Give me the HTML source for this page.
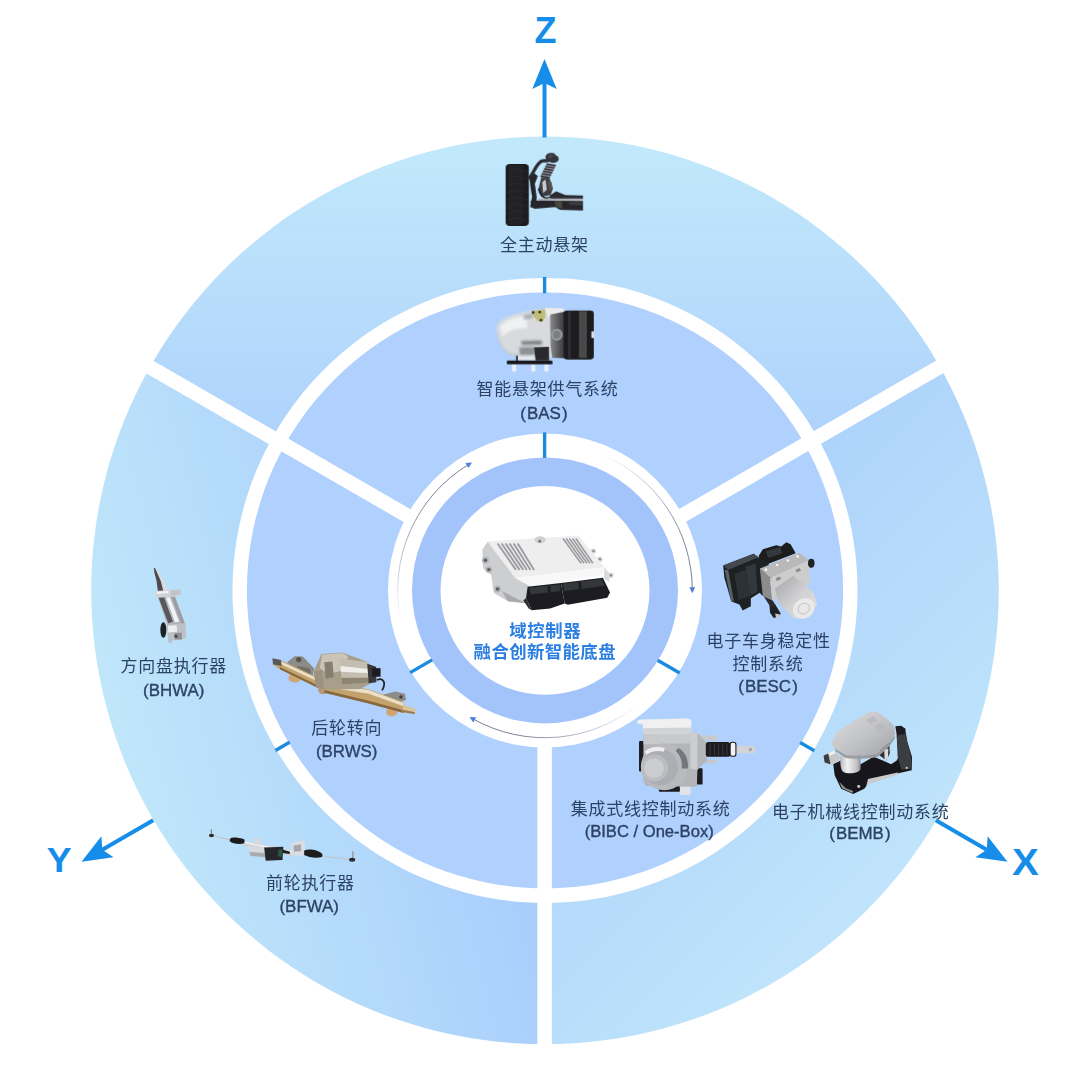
<!DOCTYPE html>
<html lang="zh"><head><meta charset="utf-8"><title>融合创新智能底盘 域控制器</title>
<style>html,body{margin:0;padding:0;background:#fff}body{width:1080px;height:1080px;overflow:hidden;font-family:"Liberation Sans",sans-serif}svg{display:block}</style></head>
<body>
<svg width="1080" height="1080" viewBox="0 0 1080 1080" font-family="'Liberation Sans', 'Noto Sans CJK SC', sans-serif">
<defs>
<linearGradient id="gTop" gradientUnits="userSpaceOnUse" x1="545" y1="440.4" x2="545" y2="136.4"><stop offset="0" stop-color="#aed2fc"/><stop offset="1" stop-color="#c2e9fb"/></linearGradient>
<linearGradient id="gLeft" gradientUnits="userSpaceOnUse" x1="448.41" y1="616.28" x2="110.33" y2="706.87"><stop offset="0" stop-color="#a9cefc"/><stop offset="1" stop-color="#bfe6fa"/></linearGradient>
<linearGradient id="gRight" gradientUnits="userSpaceOnUse" x1="615.71" y1="661.11" x2="863.2" y2="908.6"><stop offset="0" stop-color="#afd4fb"/><stop offset="1" stop-color="#bfe4fb"/></linearGradient>
</defs>
<path d="M152 363.5A453.8 453.8 0 0 1 938 363.5L815.63 434.15A312.5 312.5 0 0 0 274.37 434.15Z" fill="url(#gTop)"/>
<path d="M545 1044.2A453.8 453.8 0 0 1 152 363.5L274.37 434.15A312.5 312.5 0 0 0 545 902.9Z" fill="url(#gLeft)"/>
<path d="M938 363.5A453.8 453.8 0 0 1 545 1044.2L545 902.9A312.5 312.5 0 0 0 815.63 434.15Z" fill="url(#gRight)"/>
<path d="M843.1 590.4A298.1 298.1 0 0 1 246.9 590.4L388 590.4A157 157 0 0 0 702 590.4ZM246.9 590.4A298.1 298.1 0 0 1 843.1 590.4L702 590.4A157 157 0 0 0 388 590.4Z" fill="#b0d0fd"/>
<path d="M678 590.4A133 133 0 0 1 412 590.4L440.5 590.4A104.5 104.5 0 0 0 649.5 590.4ZM412 590.4A133 133 0 0 1 678 590.4L649.5 590.4A104.5 104.5 0 0 0 440.5 590.4Z" fill="#a3c4fb"/>
<line x1="544.6" y1="735" x2="544.6" y2="1065" stroke="#fff" stroke-width="14.5"/>
<line x1="423.36" y1="525" x2="137.57" y2="360" stroke="#fff" stroke-width="14.5"/>
<line x1="665.84" y1="525" x2="951.63" y2="360" stroke="#fff" stroke-width="14.5"/>
<line x1="544.6" y1="293.3" x2="544.6" y2="276.9" stroke="#1b8bde" stroke-width="3.4"/>
<line x1="544.6" y1="457.9" x2="544.6" y2="432.4" stroke="#1b8bde" stroke-width="3.4"/>
<line x1="289.62" y1="742.21" x2="275.41" y2="750.42" stroke="#1b8bde" stroke-width="3.4"/>
<line x1="432.19" y1="659.9" x2="410.1" y2="672.65" stroke="#1b8bde" stroke-width="3.4"/>
<line x1="800.18" y1="742.56" x2="814.38" y2="750.76" stroke="#1b8bde" stroke-width="3.4"/>
<line x1="657.6" y1="660.24" x2="679.69" y2="673" stroke="#1b8bde" stroke-width="3.4"/>
<line x1="544.5" y1="137.5" x2="544.5" y2="83" stroke="#168ee9" stroke-width="4"/><path d="M544.5 59L556.7 89L544.5 83L532.3 89Z" fill="#168ee9"/>
<line x1="935.8" y1="820.3" x2="986.72" y2="849.7" stroke="#168ee9" stroke-width="4"/><path d="M1007.5 861.7L975.42 857.26L986.72 849.7L987.62 836.13Z" fill="#168ee9"/>
<line x1="153.2" y1="820.3" x2="102.28" y2="849.7" stroke="#168ee9" stroke-width="4"/><path d="M81.5 861.7L101.38 836.13L102.28 849.7L113.58 857.26Z" fill="#168ee9"/>
<linearGradient id="ga1" gradientUnits="userSpaceOnUse" x1="400.92" y1="621.03" x2="469.13" y2="464.14"><stop offset="0" stop-color="#5a6690" stop-opacity="0"/><stop offset="0.3" stop-color="#56608a" stop-opacity="0.45"/><stop offset="0.7" stop-color="#4c5474" stop-opacity="0.9"/><stop offset="1" stop-color="#4a5678" stop-opacity="0.95"/></linearGradient><path d="M400.92 621.03A147.3 147.3 0 0 1 469.13 464.14" fill="none" stroke="url(#ga1)" stroke-width="0.8"/><path d="M472.05 462.39L468.4 467.96L465.41 462.99Z" fill="#4c80dc"/>
<linearGradient id="ga2" gradientUnits="userSpaceOnUse" x1="600.18" y1="453.83" x2="692.3" y2="589.89"><stop offset="0" stop-color="#5a6690" stop-opacity="0"/><stop offset="0.3" stop-color="#56608a" stop-opacity="0.45"/><stop offset="0.7" stop-color="#4c5474" stop-opacity="0.9"/><stop offset="1" stop-color="#4a5678" stop-opacity="0.95"/></linearGradient><path d="M600.18 453.83A147.3 147.3 0 0 1 692.3 589.89" fill="none" stroke="url(#ga2)" stroke-width="0.8"/><path d="M692.31 593.29L689.39 587.3L695.19 587.28Z" fill="#4c80dc"/>
<linearGradient id="ga3" gradientUnits="userSpaceOnUse" x1="639.68" y1="703.24" x2="472.47" y2="718.6"><stop offset="0" stop-color="#5a6690" stop-opacity="0"/><stop offset="0.3" stop-color="#56608a" stop-opacity="0.45"/><stop offset="0.7" stop-color="#4c5474" stop-opacity="0.9"/><stop offset="1" stop-color="#4a5678" stop-opacity="0.95"/></linearGradient><path d="M639.68 703.24A147.3 147.3 0 0 1 472.47 718.6" fill="none" stroke="url(#ga3)" stroke-width="0.8"/><path d="M469.51 716.93L476.16 717.36L473.3 722.41Z" fill="#4c80dc"/>
<defs>
<filter id="blur3" x="-10%" y="-10%" width="120%" height="120%"><feGaussianBlur stdDeviation="3"/></filter>
<filter id="blur4" x="-10%" y="-10%" width="120%" height="120%"><feGaussianBlur stdDeviation="4"/></filter>
<filter id="blur8" x="-10%" y="-10%" width="120%" height="120%"><feGaussianBlur stdDeviation="8"/></filter>
<filter id="blur2" x="-10%" y="-10%" width="120%" height="120%"><feGaussianBlur stdDeviation="2"/></filter>
<linearGradient id="silverV" x1="0" y1="0" x2="0" y2="1"><stop offset="0" stop-color="#f4f5f7"/><stop offset="0.5" stop-color="#c9ccd2"/><stop offset="1" stop-color="#8e9299"/></linearGradient>
<linearGradient id="silverH" x1="0" y1="0" x2="1" y2="0"><stop offset="0" stop-color="#9a9ea6"/><stop offset="0.35" stop-color="#eceef1"/><stop offset="0.7" stop-color="#c2c5cb"/><stop offset="1" stop-color="#8a8e96"/></linearGradient>
<linearGradient id="basBody" x1="0" y1="0" x2="0" y2="1"><stop offset="0" stop-color="#f1f1f1"/><stop offset="0.45" stop-color="#dcdcdd"/><stop offset="1" stop-color="#b9babd"/></linearGradient>
<linearGradient id="basMid" x1="0" y1="0" x2="1" y2="0"><stop offset="0" stop-color="#8a8c90"/><stop offset="0.5" stop-color="#55565a"/><stop offset="1" stop-color="#2a2a2c"/></linearGradient>
<linearGradient id="motorG" x1="0" y1="0" x2="1" y2="1"><stop offset="0" stop-color="#a4a5a8"/><stop offset="0.5" stop-color="#cfcfd1"/><stop offset="1" stop-color="#e6e6e7"/></linearGradient>
<linearGradient id="bembTop" x1="0" y1="0" x2="1" y2="1"><stop offset="0" stop-color="#dedee0"/><stop offset="0.5" stop-color="#c4c5c8"/><stop offset="1" stop-color="#a3a4a8"/></linearGradient>
<linearGradient id="bembCyl" x1="0" y1="0" x2="1" y2="0"><stop offset="0" stop-color="#b9babd"/><stop offset="0.35" stop-color="#f1f1f2"/><stop offset="0.8" stop-color="#c2c3c6"/><stop offset="1" stop-color="#8f9094"/></linearGradient>
<linearGradient id="darkV" x1="0" y1="0" x2="0" y2="1"><stop offset="0" stop-color="#3a3b3f"/><stop offset="1" stop-color="#141416"/></linearGradient>
</defs><g transform="translate(495 145) scale(0.09259)" filter="url(#blur4)"><rect x="115" y="205" width="250" height="670" rx="45" ry="40" fill="#1d1d1f"/><rect x="150" y="215" width="150" height="650" rx="30" fill="#262628" opacity="0.8"/><path d="M135 290L235 260L345 290" stroke="#323235" stroke-width="9" fill="none" opacity="0.7"/><path d="M135 365L235 335L345 365" stroke="#323235" stroke-width="9" fill="none" opacity="0.7"/><path d="M135 440L235 410L345 440" stroke="#323235" stroke-width="9" fill="none" opacity="0.7"/><path d="M135 515L235 485L345 515" stroke="#323235" stroke-width="9" fill="none" opacity="0.7"/><path d="M135 590L235 560L345 590" stroke="#323235" stroke-width="9" fill="none" opacity="0.7"/><path d="M135 665L235 635L345 665" stroke="#323235" stroke-width="9" fill="none" opacity="0.7"/><path d="M135 740L235 710L345 740" stroke="#323235" stroke-width="9" fill="none" opacity="0.7"/><path d="M135 815L235 785L345 815" stroke="#323235" stroke-width="9" fill="none" opacity="0.7"/><path d="M372 360L425 305L462 335L430 420L450 560L440 690L380 670L400 560L385 470Z" fill="#25262c"/><path d="M372 352C420 300 450 190 510 172L570 168" stroke="#2a2b33" stroke-width="36" fill="none" stroke-linecap="round"/><path d="M545 120C560 80 640 70 655 110C700 120 700 180 650 190C600 200 545 175 545 120Z" fill="#34353a"/><circle cx="600" cy="120" r="22" fill="#4a4b50"/><path d="M560 200L660 215L590 360L490 340Z" fill="#8d9098"/><path d="M556 205L656 222" stroke="#2c2d33" stroke-width="15"/><path d="M543 231L643 248" stroke="#2c2d33" stroke-width="15"/><path d="M530 257L630 274" stroke="#2c2d33" stroke-width="15"/><path d="M517 283L617 300" stroke="#2c2d33" stroke-width="15"/><path d="M504 309L604 326" stroke="#2c2d33" stroke-width="15"/><path d="M491 335L591 352" stroke="#2c2d33" stroke-width="15"/><path d="M500 345L590 360L625 470L600 540L500 560L470 470Z" fill="#3b3c42"/><path d="M510 400L545 370L560 480L520 520Z" fill="#c9ccd3"/><path d="M560 380L610 400L620 470L585 500Z" fill="#55504c"/><path d="M470 470C490 560 540 590 600 560" stroke="#17181b" stroke-width="16" fill="none"/><path d="M590 545L660 500L760 540L950 545L950 582L600 580Z" fill="#2b2c31"/><rect x="470" y="578" width="480" height="26" fill="#aeb2ba"/><path d="M385 600L950 604L950 708L700 700L650 670L430 690L385 660Z" fill="#26272c"/><path d="M640 610L720 600L730 690L660 670Z" fill="#4a4742"/><path d="M800 615L945 618L945 650L800 645Z" fill="#3a3b42"/></g><g transform="translate(490 300) scale(0.11111)" filter="url(#blur4)"><rect x="200" y="575" width="36" height="70" rx="10" fill="#eef3fb" opacity="0.9"/><rect x="372" y="575" width="36" height="70" rx="10" fill="#eef3fb" opacity="0.9"/><rect x="490" y="575" width="36" height="70" rx="10" fill="#eef3fb" opacity="0.9"/><g filter="url(#blur8)" opacity="0.96"><path d="M58 260C60 200 120 160 204 134L373 93L525 76L560 120L560 520L230 505C140 500 80 420 58 260Z" fill="#dadbdc"/><path d="M90 240C140 180 230 150 340 140L330 260C240 250 170 270 110 330Z" fill="#f3f3f3"/><path d="M280 367L466 362L470 402L285 405Z" fill="#7e8084"/><path d="M262 425L400 420L405 496L268 498Z" fill="#8c8e92"/><path d="M70 300C90 420 150 480 260 490L262 505C150 500 90 440 62 300Z" fill="#c4c5c8"/><path d="M300 135L380 118L385 165L305 180Z" fill="#a4a6ab" opacity="0.8"/><path d="M240 500L520 505L520 540L245 545Z" fill="#e8e9ea"/></g><path d="M378 98L495 86L500 150L470 200L430 190L385 140Z" fill="#bdb765" opacity="0.85"/><circle cx="388" cy="112" r="12" fill="#2a2a22"/><circle cx="447" cy="108" r="12" fill="#2a2a22"/><circle cx="458" cy="180" r="12" fill="#2a2a22"/><path d="M495 70L660 75L665 160L520 150Z" fill="#ececec"/><path d="M540 130L700 100L700 525L560 520L545 420Z" fill="url(#basMid)"/><circle cx="602" cy="312" r="52" fill="#9b9da1"/><circle cx="602" cy="312" r="34" fill="#7b7d82"/><rect x="662" y="95" width="272" height="440" rx="30" fill="#1b1b1d"/><rect x="800" y="100" width="72" height="420" fill="#47484b"/><rect x="700" y="100" width="30" height="425" fill="#2e2f31"/><rect x="912" y="282" width="26" height="60" fill="#d9dde6"/><path d="M395 425L530 420L532 545L410 545Z" fill="#2a2b2e"/><rect x="152" y="545" width="410" height="34" rx="8" fill="#17181a"/><path d="M235 500L250 500L250 548L235 548Z" fill="#222"/></g><g transform="translate(135 560) scale(0.08333)" filter="url(#blur4)"><path d="M226 96L258 106L348 250L400 368L275 378L258 250L232 150Z" fill="#d9dbdf"/><path d="M226 96L242 100L308 250L340 372L275 378L258 250L232 150Z" fill="#4b4c50"/><path d="M272 440L478 436L610 790L395 805Z" fill="#b2b4ba"/><path d="M285 455L350 450L455 740L400 760Z" fill="#56575c"/><path d="M372 450L420 448L530 740L480 748Z" fill="#f2f3f5"/><path d="M440 448L478 440L600 770L560 775Z" fill="#9b9da3"/><path d="M238 372L545 352L548 420L430 440L250 445Z" fill="#d2d3d7"/><path d="M420 365L545 355L548 415L430 432Z" fill="#c3c4c8"/><path d="M260 380L400 372L402 395L262 405Z" fill="#f6f6f7"/><path d="M378 775L605 760L612 930L560 960L400 965Z" fill="#bfc0c5"/><path d="M395 790L500 783L505 860L400 870Z" fill="#eeeff1"/><path d="M470 880L560 870L565 950L480 955Z" fill="#8e9096"/><circle cx="492" cy="915" r="20" fill="#4c4d52"/><rect x="402" y="955" width="40" height="38" rx="10" fill="#b9bbc0"/><ellipse cx="340" cy="840" rx="36" ry="92" fill="#1f2023"/></g><g transform="translate(265 640) scale(0.14815)" filter="url(#blur4)"><ellipse cx="202" cy="255" rx="44" ry="32" fill="#cfa676"/><ellipse cx="392" cy="338" rx="34" ry="28" fill="#b99a78"/><ellipse cx="855" cy="487" rx="38" ry="28" fill="#d0a572"/><path d="M150 150L200 110L255 112L332 192L322 245L170 200Z" fill="#8c8b86"/><circle cx="228" cy="132" r="18" fill="#55554f"/><path d="M215 175L300 190L310 235L225 215Z" fill="#6f6f6a"/><path d="M790 372L880 348L945 363L952 405L900 422L790 402Z" fill="#8e8c86"/><circle cx="918" cy="385" r="12" fill="#3f3f3c"/><path d="M58 128L110 136L345 248L345 318L100 198L52 165Z" fill="#c4a26c"/><path d="M100 140L345 254L345 275L100 160Z" fill="#eadfc8"/><path d="M100 182L345 300L345 318L100 198Z" fill="#86683f"/><path d="M50 123L108 135L112 175L54 163Z" fill="#58585a"/><path d="M400 288L700 333L935 420L935 492L700 428L400 356Z" fill="#c4a26c"/><path d="M400 293L700 338L935 425L935 447L700 362L400 315Z" fill="#eadfc8"/><path d="M400 338L700 410L935 474L935 492L700 428L400 356Z" fill="#86683f"/><path d="M930 436L1016 466L1010 500L930 488Z" fill="#d9c49a"/><path d="M930 470L1012 488L1010 500L930 488Z" fill="#9a7a4c"/><path d="M330 210L380 95L520 85L700 150L720 290L640 330L420 335L340 300Z" fill="#a89f8b"/><path d="M385 100L520 88L560 110L540 200L430 230L370 190Z" fill="#cbc5b7"/><path d="M400 150L455 145L465 250L410 262Z" fill="#857f70"/><path d="M505 125L700 150L712 285L520 300Z" fill="#c3beb1"/><path d="M510 175L700 195L705 225L512 215Z" fill="#f0efea"/><path d="M515 255L705 255L710 287L520 300Z" fill="#8f8672"/><path d="M690 160L750 180L752 285L700 292Z" fill="#38383a"/><rect x="722" y="190" width="58" height="58" fill="#1f1f22"/><path d="M755 270C800 250 820 290 790 340" stroke="#222" stroke-width="12" fill="none"/><path d="M330 215L385 200L400 335L345 322Z" fill="#9c927f"/></g><g transform="translate(200 815) scale(0.15279)" filter="url(#blur3)"><path d="M85 135L205 165" stroke="#c3c7ce" stroke-width="9" fill="none"/><path d="M795 268L985 292" stroke="#c3c7ce" stroke-width="9" fill="none"/><rect x="70" y="92" width="9" height="36" fill="#8d9096"/><ellipse cx="75" cy="134" rx="17" ry="12" fill="#2b2c30"/><rect x="995" y="238" width="10" height="44" fill="#9a9da3"/><ellipse cx="996" cy="293" rx="20" ry="13" fill="#2b2c30"/><path d="M275 168L610 232L605 272L270 200Z" fill="#cfd2d7"/><path d="M280 172L605 236L604 248L280 182Z" fill="#f1f2f4"/><path d="M360 150L400 160L395 200L350 190Z" fill="#d7d9dd"/><path d="M318 205L440 215L445 278L330 268Z" fill="#d9dbde"/><path d="M322 240L442 250L445 278L330 268Z" fill="#a9acb2"/><path d="M420 212L545 208L540 295L430 300Z" fill="#26272a"/><path d="M515 225L548 222L535 275L510 270Z" fill="#2f5548"/><path d="M540 225L590 240L585 255L540 248Z" fill="#1f2023"/><path d="M600 180L680 168L690 215L672 268L598 262Z" fill="#dcdde0"/><path d="M612 200L660 192L662 235L615 240Z" fill="#a4a6ab"/><path d="M195 158C210 140 270 148 292 162L290 185C260 195 215 190 195 172Z" fill="#1b1c1f"/><path d="M682 232C720 218 780 232 802 258L798 275C760 285 710 278 682 262Z" fill="#1b1c1f"/></g><g transform="translate(715 535) scale(0.10185)" filter="url(#blur4)"><path d="M535 690L590 680L645 770L630 800L575 815L540 760Z" fill="#1f2023"/><path d="M590 770L640 780L630 810L600 815Z" fill="#c9c9c9"/><path d="M428 205L470 140L600 100L650 112L700 70L742 90L792 180L500 292L440 262Z" fill="#1b1d1f"/><path d="M500 160L640 118L660 180L520 225Z" fill="#35393c"/><path d="M400 220L520 260L560 420L470 600L430 560Z" fill="#1f2225"/><path d="M470 590L560 630L600 700L540 700Z" fill="#2a2c2f"/><path d="M80 300L380 185L442 230L452 560L352 622L352 700L272 742L240 682L160 652L92 420Z" fill="#1e2124"/><path d="M80 300L380 185L425 218L130 342Z" fill="#444a4f"/><path d="M95 340L130 345L185 650L160 652Z" fill="#5a6066"/><path d="M190 380L330 330L350 600L230 640Z" fill="#2c3034"/><path d="M300 310L400 280L415 560L352 590Z" fill="#33373b"/><path d="M440 330L830 175L922 250L540 422Z" fill="#b9b9b9"/><path d="M440 330L540 422L562 642L470 600Z" fill="#8c8c8c"/><path d="M540 422L922 250L932 480L562 642Z" fill="#cdcdcd"/><circle cx="500" cy="340" r="13" fill="#f4f4f4"/><circle cx="610" cy="295" r="13" fill="#f4f4f4"/><circle cx="715" cy="250" r="13" fill="#f4f4f4"/><circle cx="812" cy="210" r="13" fill="#f4f4f4"/><rect x="600" y="415" width="45" height="28" fill="#8a8a8a" transform="rotate(-24 622 429)"/><rect x="795" y="332" width="45" height="28" fill="#8a8a8a" transform="rotate(-24 817 346)"/><ellipse cx="945" cy="278" rx="32" ry="44" fill="#202124"/><path d="M590 525L765 400L965 560L1002 680L905 800L780 822L620 662Z" fill="url(#motorG)"/><ellipse cx="872" cy="722" rx="112" ry="96" fill="#e9e9e9" transform="rotate(-35 872 722)"/><ellipse cx="872" cy="722" rx="58" ry="50" fill="none" stroke="#c4c4c4" stroke-width="10" transform="rotate(-35 872 722)"/></g><g transform="translate(630 712) scale(0.12037)" filter="url(#blur4)"><rect x="870" y="282" width="172" height="60" rx="14" fill="#d3d4d7"/><circle cx="1000" cy="312" r="14" fill="#a2a4a9"/><rect x="540" y="195" width="185" height="42" rx="8" fill="#c8c9cd"/><rect x="590" y="398" width="135" height="26" rx="6" fill="#c5c6ca"/><rect x="75" y="240" width="50" height="255" rx="8" fill="#1d1d20"/><rect x="555" y="468" width="48" height="135" rx="6" fill="#1d1d20"/><rect x="240" y="610" width="175" height="52" rx="8" fill="#1d1d20"/><rect x="415" y="618" width="88" height="72" rx="8" fill="#e2e3e6"/><path d="M112 170L500 165L560 175L640 260L640 400L560 480L555 620L130 615L110 560Z" fill="#b4b5b9"/><path d="M112 170L500 165L500 260L112 270Z" fill="#c8c9cc"/><path d="M500 165L560 175L560 480L500 470Z" fill="#cdced2"/><path d="M60 80C60 65 80 62 110 62L470 55C500 55 512 70 512 95L505 160C505 172 495 178 480 178L130 180C115 180 110 172 108 160L105 100L65 98Z" fill="#f0f0f1"/><path d="M108 135L508 128L505 160C505 172 495 178 480 178L130 180C115 180 110 172 108 160Z" fill="#d2d3d6"/><circle cx="285" cy="455" r="195" fill="#b9babe"/><path d="M400 300C460 330 490 400 480 470L430 470C435 410 420 360 380 325Z" fill="#74767b"/><circle cx="250" cy="458" r="150" fill="#adaeb3"/><circle cx="205" cy="465" r="112" fill="#bcbdc1"/><circle cx="200" cy="468" r="82" fill="#cbccd0"/><path d="M120 330C160 290 230 280 290 300L280 330C230 315 170 325 140 355Z" fill="#ededee"/><rect x="630" y="250" width="202" height="122" rx="22" fill="#1b1b1e"/><rect x="662" y="262" width="8" height="98" fill="#3d3e42"/><rect x="697" y="262" width="8" height="98" fill="#3d3e42"/><rect x="732" y="262" width="8" height="98" fill="#3d3e42"/><rect x="767" y="262" width="8" height="98" fill="#3d3e42"/><rect x="802" y="262" width="8" height="98" fill="#3d3e42"/><rect x="832" y="252" width="48" height="116" rx="20" fill="#f3f3f4" stroke="#1b1b1e" stroke-width="9"/></g><g transform="translate(818 705) scale(0.09259)" filter="url(#blur4)"><path d="M165 640L240 600L460 640L600 560L700 600L790 640L850 600L870 560L850 330L850 230L940 250L965 400L1015 560L1012 705L880 735L560 825L500 905L380 962L250 905L180 760Z" fill="#17181a"/><path d="M850 330L940 300L1005 560L1005 690L900 700L860 560Z" fill="#3b3c40"/><path d="M540 800L860 730L870 750L560 850L520 880Z" fill="#c9cacc"/><path d="M230 830L300 900L380 930L370 950L260 900Z" fill="#8d8e92"/><circle cx="440" cy="880" r="16" fill="#cfcfd2"/><circle cx="958" cy="680" r="12" fill="#cfcfd2"/><path d="M680 420L770 405L775 520L740 600L660 540Z" fill="#2a2b2e"/><path d="M715 480L760 470L755 585L720 600Z" fill="#d9d9db"/><path d="M60 545L170 490L240 560L230 610L130 645L70 620Z" fill="#c6c7c9"/><path d="M60 548L110 525L135 640L72 620Z" fill="#3b3c40"/><path d="M110 525L170 492L190 520L130 548Z" fill="#efefef"/><path d="M240 560C240 540 300 530 460 540L460 690C440 740 320 750 270 720C245 700 240 640 240 560Z" fill="url(#bembCyl)"/><path d="M150 400C170 330 220 280 260 255L520 90C560 65 620 60 650 75L800 200C830 230 840 290 825 330L770 405L640 520C560 545 380 550 300 540L185 472C160 455 145 430 150 400Z" fill="url(#bembTop)"/><path d="M185 472L300 540C380 550 560 545 640 520L770 405L825 330L830 360L775 440L650 560C560 585 380 585 295 570L190 500Z" fill="#9c9da1"/><path d="M520 160L600 120L640 170L560 210Z" fill="#b5b6ba" opacity="0.7"/><path d="M610 220L700 190L720 250L640 280Z" fill="#b5b6ba" opacity="0.6"/><path d="M835 230L900 225L945 260L930 320L850 310Z" fill="#1d1e21"/></g><g transform="translate(475 528) scale(0.13426)" filter="url(#blur3)"><path d="M55 160L95 100L300 370L425 440L385 560L245 545L140 485L120 350L60 300Z" fill="#cdced0"/><path d="M95 100L130 105L330 380L300 372Z" fill="#e9e9ea"/><circle cx="78" cy="240" r="26" fill="#b5b6b9"/><circle cx="78" cy="240" r="13" fill="#5c5d61"/><circle cx="103" cy="310" r="26" fill="#b5b6b9"/><circle cx="103" cy="310" r="13" fill="#5c5d61"/><circle cx="168" cy="455" r="26" fill="#b5b6b9"/><circle cx="168" cy="455" r="13" fill="#5c5d61"/><path d="M200 470L380 560L245 545Z" fill="#a9aaad"/><circle cx="882" cy="172" r="20" fill="#d4d5d7"/><circle cx="882" cy="172" r="9" fill="#8a8b8f"/><circle cx="930" cy="232" r="20" fill="#d4d5d7"/><circle cx="930" cy="232" r="9" fill="#8a8b8f"/><circle cx="1012" cy="352" r="20" fill="#d4d5d7"/><circle cx="1012" cy="352" r="9" fill="#8a8b8f"/><path d="M95 100L770 55L965 292L300 372Z" fill="#eeeeef"/><path d="M168 115L305 312" stroke="#9c9da1" stroke-width="14"/><path d="M198 115L332 312" stroke="#9c9da1" stroke-width="14"/><path d="M228 115L359 312" stroke="#9c9da1" stroke-width="14"/><path d="M258 115L386 312" stroke="#9c9da1" stroke-width="14"/><path d="M288 115L413 312" stroke="#9c9da1" stroke-width="14"/><path d="M318 115L440 312" stroke="#9c9da1" stroke-width="14"/><path d="M655 78L790 262" stroke="#9c9da1" stroke-width="12"/><path d="M679 78L812 262" stroke="#9c9da1" stroke-width="12"/><path d="M703 78L834 262" stroke="#9c9da1" stroke-width="12"/><path d="M727 78L856 262" stroke="#9c9da1" stroke-width="12"/><path d="M751 78L878 262" stroke="#9c9da1" stroke-width="12"/><ellipse cx="485" cy="88" rx="42" ry="26" fill="#d0d1d3"/><circle cx="482" cy="98" r="11" fill="#77787c"/><path d="M300 372L965 292L1002 342L425 442Z" fill="#f8f8f8"/><path d="M965 292L1002 342L1000 400L960 380Z" fill="#d9dadc"/><path d="M392 438L640 410L668 562L560 600L422 612L380 522Z" fill="#1e1f21"/><path d="M640 410L952 370L1006 480L985 520L692 572L668 562Z" fill="#1e1f21"/><path d="M405 445L630 420L635 470L415 495Z" fill="#36373a"/><path d="M655 415L940 380L965 430L665 470Z" fill="#36373a"/><path d="M540 430L560 428L565 480L545 482Z" fill="#1e1f21"/><path d="M770 400L790 398L795 450L775 452Z" fill="#1e1f21"/><path d="M380 522L422 612L400 600L360 540Z" fill="#2c2d30"/></g>
<text x="545.4" y="43" text-anchor="middle" font-size="36" font-weight="bold" fill="#168ee9" stroke="#168ee9" stroke-width="0">Z</text>
<g transform="translate(1025.3 0) scale(1.1 1) translate(-1025.3 0)"><text x="1025.3" y="875" text-anchor="middle" font-size="36.5" font-weight="bold" fill="#168ee9" stroke="#168ee9" stroke-width="0">X</text></g>
<g transform="translate(59.2 0) scale(1.05 1) translate(-59.2 0)"><text x="59.2" y="871.7" text-anchor="middle" font-size="35.5" font-weight="bold" fill="#168ee9" stroke="#168ee9" stroke-width="0">Y</text></g>
<text x="500.1" y="250.7" font-size="17" letter-spacing="0.75" fill="#2c4265">全主动悬架</text>
<text x="476.58" y="394.6" font-size="17" letter-spacing="0.75" fill="#2c4265">智能悬架供气系统</text>
<text x="543.9" y="418.7" text-anchor="middle" font-size="16.9" font-weight="normal" fill="#2c4265" stroke="#2c4265" stroke-width="0.35">(<tspan dx="1.2">BAS</tspan><tspan dx="1.2">)</tspan></text>
<text x="120.43" y="671.6" font-size="17" letter-spacing="0.75" fill="#2c4265">方向盘执行器</text>
<text x="173.7" y="695.6" text-anchor="middle" font-size="16.9" font-weight="normal" fill="#2c4265" stroke="#2c4265" stroke-width="0.35">(BHWA)</text>
<text x="311.18" y="733.6" font-size="17" letter-spacing="0.75" fill="#2c4265">后轮转向</text>
<text x="346.7" y="756.8" text-anchor="middle" font-size="16.9" font-weight="normal" fill="#2c4265" stroke="#2c4265" stroke-width="0.35">(BRWS)</text>
<text x="266" y="888.8" font-size="17" letter-spacing="0.75" fill="#2c4265">前轮执行器</text>
<text x="309.2" y="912" text-anchor="middle" font-size="16.9" font-weight="normal" fill="#2c4265" stroke="#2c4265" stroke-width="0.35">(BFWA)</text>
<text x="706.45" y="646.7" font-size="17" letter-spacing="0.75" fill="#2c4265">电子车身稳定性</text>
<text x="732.58" y="670" font-size="17" letter-spacing="0.75" fill="#2c4265">控制系统</text>
<text x="768" y="692" text-anchor="middle" font-size="16.9" font-weight="normal" fill="#2c4265" stroke="#2c4265" stroke-width="0.35">(<tspan dx="1.2">BESC</tspan><tspan dx="1.2">)</tspan></text>
<text x="570.7" y="815.3" font-size="17" letter-spacing="0.75" fill="#2c4265">集成式线控制动系统</text>
<text x="649.2" y="837.3" text-anchor="middle" font-size="16.6" font-weight="normal" fill="#2c4265" stroke="#2c4265" stroke-width="0.35">(BIBC / One-Box)</text>
<text x="771.92" y="818.4" font-size="17" letter-spacing="0.75" fill="#2c4265">电子机械线控制动系统</text>
<text x="859.9" y="839.3" text-anchor="middle" font-size="16.9" font-weight="normal" fill="#2c4265" stroke="#2c4265" stroke-width="0.35">(<tspan dx="1.2">BEMB</tspan><tspan dx="1.2">)</tspan></text>
<text x="509.3" y="636.9" font-size="17.4" font-weight="bold" letter-spacing="0.6" fill="#2b7fe3">域控制器</text>
<text x="473.6" y="658" font-size="17.4" font-weight="bold" letter-spacing="0.4" fill="#2b7fe3">融合创新智能底盘</text>
</svg>
</body></html>
